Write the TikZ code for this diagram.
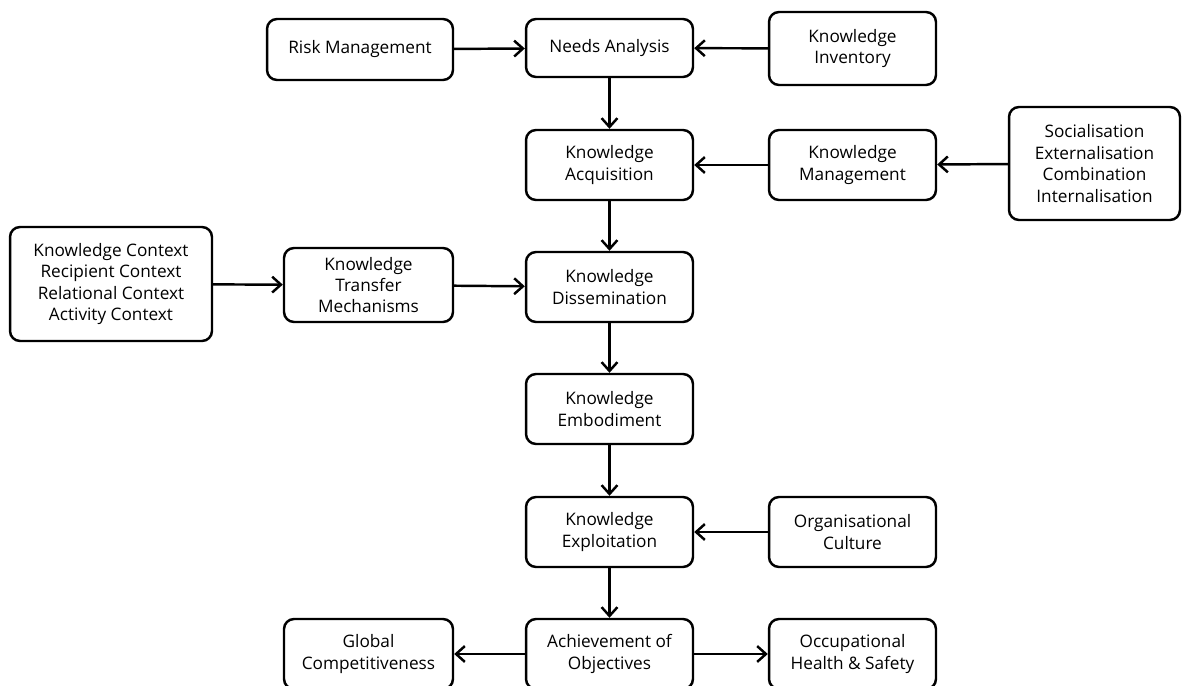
\documentclass[tikz,border=0pt]{standalone}
\usepackage{fontspec}
\setmainfont{Open Sans}
\usepackage{tikz}
\usetikzlibrary{arrows.meta}
\tikzset{
  stage/.style={draw=black, line width=1.4pt, rounded corners=2mm, fill=white,
                align=center, font=\fontsize{9.8}{12.2}\selectfont,
                minimum width=#1, minimum height=1.4cm, inner sep=2pt},
  stage/.default=3.34cm,
  flow/.style={line width=1.4pt, -{Straight Barb[length=5pt,width=9pt,line width=1.4pt]}},
}

\begin{document}
\begin{tikzpicture}[x=0.02cm, y=-0.02cm]
  \useasboundingbox (0,0) rectangle (1184,686);
  % main column
  \node[stage, minimum height=1.16cm] (needs)   at (609.5,48)  {Needs Analysis};
  \node[stage] (acq)     at (609.5,165) {Knowledge\\Acquisition};
  \node[stage] (dissem)  at (609.5,287) {Knowledge\\Dissemination};
  \node[stage] (embod)   at (609.5,409) {Knowledge\\Embodiment};
  \node[stage] (exploit) at (609.5,532) {Knowledge\\Exploitation};
  \node[stage] (achieve) at (609.5,654) {Achievement of\\Objectives};
  % inputs and outcomes
  \node[stage=3.72cm, minimum height=1.22cm] (risk) at (360,49.5) {Risk Management};
  \node[stage, minimum height=1.46cm] (inventory) at (852.5,48.5) {Knowledge\\Inventory};
  \node[stage] (kmgmt)   at (852.5,165) {Knowledge\\Management};
  \node[stage=3.42cm, minimum height=2.26cm] (seci) at (1094.5,163.5)
    {Socialisation\\Externalisation\\Combination\\Internalisation};
  \node[stage=4.04cm, minimum height=2.28cm] (ctx) at (111,284)
    {Knowledge Context\\Recipient Context\\Relational Context\\Activity Context};
  \node[stage=3.38cm, minimum height=1.48cm] (ktm) at (368.5,285)
    {Knowledge\\Transfer\\Mechanisms};
  \node[stage] (culture) at (852.5,532) {Organisational\\Culture};
  \node[stage=3.38cm] (global) at (368.5,654) {Global\\Competitiveness};
  \node[stage] (ohs)     at (852.5,654) {Occupational\\Health \& Safety};

  \draw[flow] (risk) -- (needs);
  \draw[flow] (inventory) -- (needs);
  \draw[flow] (needs) -- (acq);
  \draw[flow] (kmgmt) -- (acq);
  \draw[flow] (seci) -- (kmgmt);
  \draw[flow] (acq) -- (dissem);
  \draw[flow] (ctx) -- (ktm);
  \draw[flow] (ktm) -- (dissem);
  \draw[flow] (dissem) -- (embod);
  \draw[flow] (embod) -- (exploit);
  \draw[flow] (culture) -- (exploit);
  \draw[flow] (exploit) -- (achieve);
  \draw[flow] (achieve) -- (global);
  \draw[flow] (achieve) -- (ohs);
\end{tikzpicture}
\end{document}
